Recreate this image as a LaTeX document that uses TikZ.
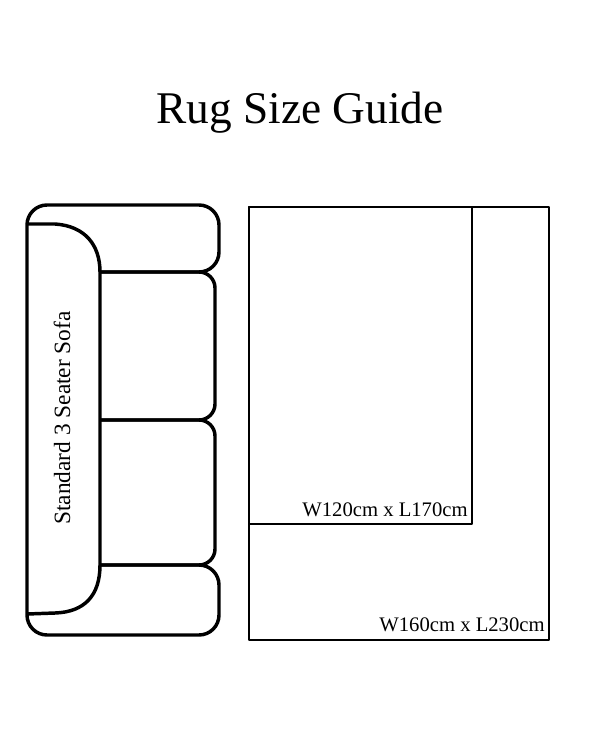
\documentclass[tikz,border=0pt]{standalone}
\usepackage{fontspec}
\setmainfont{Liberation Serif}
\begin{document}
\begin{tikzpicture}[x=0.75pt,y=-0.75pt,line join=round,
 sofa/.style={line width=2.6pt},rug/.style={line width=1.6pt}]
\useasboundingbox (0,0) rectangle (600,750);
\node (title) at (300,113) {\fontsize{34}{40}\selectfont Rug Size Guide};
% sofa
\draw[sofa,rounded corners=15] (100,272) -- (219,272) -- (219,205) -- (27,205) -- (27,635) -- (219,635) -- (219,565) -- (100,565);
\draw[sofa,rounded corners=12] (100,272) -- (215,272) -- (215,420) -- (100,420);
\draw[sofa,rounded corners=12] (100,420) -- (215,420) -- (215,565) -- (100,565);
\draw[sofa] (27,224) -- (55,224) .. controls (85,226) and (100,245) .. (100,272) -- (100,565) .. controls (100,595) and (85,612) .. (55,613) -- (27,614);
\node[rotate=90] (sofalbl) at (62,418) {\fontsize{17.5}{20}\selectfont Standard 3 Seater Sofa};
% rugs
\draw[rug] (249,207) rectangle (549,640);
\draw[rug] (249,207) rectangle (472,524);
\node (r1) at (385,510) {\fontsize{15.5}{18}\selectfont W120cm x L170cm};
\node (r2) at (462,625) {\fontsize{15.5}{18}\selectfont W160cm x L230cm};
\end{tikzpicture}
\end{document}
